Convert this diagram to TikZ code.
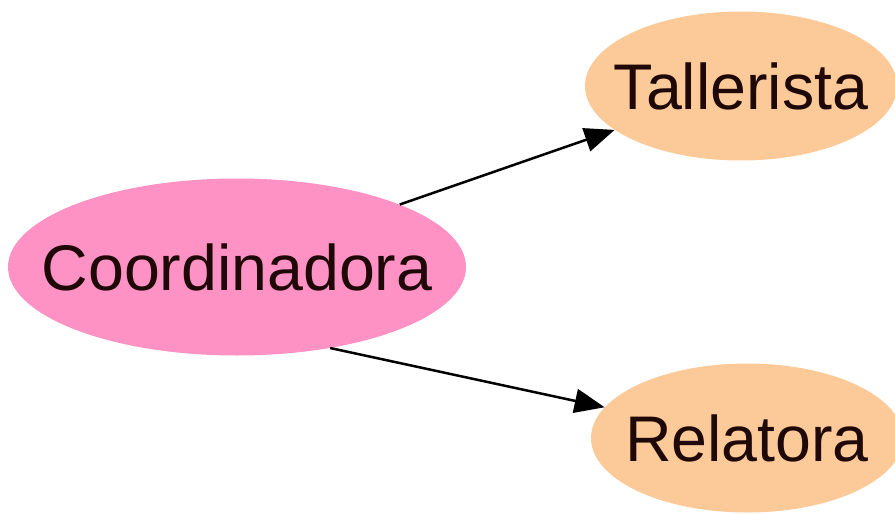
\documentclass[tikz,border=0pt]{standalone}
\usepackage{fontspec}
\setmainfont{Liberation Sans}
\usepackage{tikz}
\usetikzlibrary{arrows.meta, shapes.geometric}
\usepackage{xcolor}
\definecolor{rolepink}{RGB}{255,146,196}
\definecolor{rolepeach}{RGB}{252,202,152}
\definecolor{roletext}{RGB}{30,8,8}
\newcommand{\rolename}[1]{\makebox[0pt]{#1}}
\tikzset{%
  >={Triangle[width=24pt,length=30pt]},
  % Specifications for style of nodes:
        base/.style = {ellipse, draw=none, inner sep=0pt,
                       text=roletext, font=\fontsize{64.5}{70}\selectfont},
   leadrole/.style = {base, fill=rolepink, minimum width=458pt, minimum height=177pt},
    subrole/.style = {base, fill=rolepeach, minimum width=312pt, minimum height=149pt},
}

\begin{document}
\begin{tikzpicture}[x=1pt, y=-1pt]
  \useasboundingbox (0,0) rectangle (895,514);
  % Specification of nodes (position, etc.)
  \node (coord) [leadrole] at (237,267) {\rolename{Coordinadora}};
  \node (tall)  [subrole]  at (741,86)  {\rolename{Tallerista}};
  \node (rel)   [subrole]  at (747,438) {\rolename{Relatora}};
  % Specification of lines between nodes specified above
  \draw[->, line width=2.5pt] (coord.21)  -- (tall);
  \draw[->, line width=2.5pt] (coord.-41) -- (rel);
\end{tikzpicture}
\end{document}
